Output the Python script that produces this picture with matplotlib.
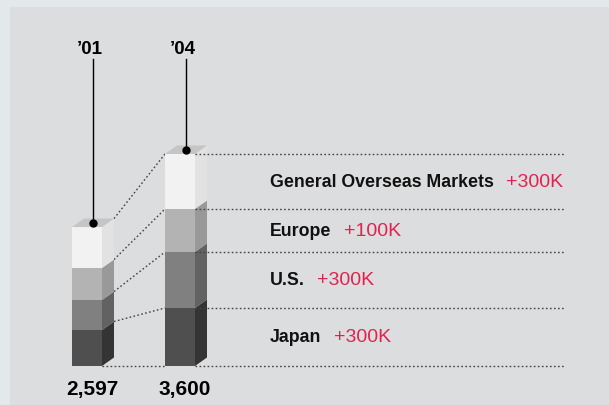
import matplotlib.pyplot as plt
from matplotlib.patches import Polygon, Rectangle

# data (segments bottom -> top, in K)
years = ["\u201901", "\u201904"]
totals = ["2,597", "3,600"]
markets = ["Japan", "U.S.", "Europe", "General Overseas Markets"]
seg_2001 = [611, 509, 543, 696]
seg_2004 = [985, 951, 730, 934]
growth = ["+300K", "+300K", "+100K", "+300K"]

front_colors = ["#4f4f4f", "#808080", "#b3b3b3", "#f2f2f2"]
side_colors = ["#343434", "#626262", "#999999", "#e2e2e2"]
top_color = "#c5c5c5"
dot_style = (0, (1.2, 1.7))

PX = 0.0589   # pixels per unit
BASE = 367    # pixel row of zero


def row(p):
    return (BASE - p) / PX


fig = plt.figure(figsize=(6.09, 4.06), dpi=100, facecolor="#e3e8ea")
ax = fig.add_axes([0, 0, 1, 1])
ax.set_xlim(0, 609)
ax.set_ylim(row(406), row(0))
ax.axis("off")

ax.add_patch(Rectangle((10, row(406)), 599, row(8) - row(406),
                       facecolor="#dcdddf", edgecolor="none", zorder=0))

bar_left = [72, 165]
bar_w = 30
dx = 12
dy = 8.5 / PX

all_edges = []
for i, (left, segs) in enumerate(zip(bar_left, [seg_2001, seg_2004])):
    bottom = 0
    edges = [0]
    r = left + bar_w
    for v, fc, sc in zip(segs, front_colors, side_colors):
        ax.add_patch(Rectangle((left, bottom), bar_w, v,
                               facecolor=fc, edgecolor="none", zorder=2))
        ax.add_patch(Polygon([(r, bottom), (r + dx, bottom + dy),
                              (r + dx, bottom + v + dy), (r, bottom + v)],
                             facecolor=sc, edgecolor="none", zorder=2))
        bottom += v
        edges.append(bottom)
    ax.add_patch(Polygon([(left, bottom), (r, bottom),
                          (r + dx, bottom + dy), (left + dx, bottom + dy)],
                         facecolor=top_color, edgecolor="none", zorder=2))
    all_edges.append(edges)

    # leader line, dot and year
    cx = left + bar_w / 2 + dx / 2
    cy = bottom + dy / 2
    ax.plot([cx, cx], [cy, row(60)], color="black", lw=1.0, zorder=3)
    ax.plot(cx, cy, "o", color="black", ms=5, zorder=4)
    ax.text(cx - 3, row(50), years[i], ha="center", va="center",
            fontsize=13.5, fontweight="bold",
            family=["Liberation Sans Narrow", "Liberation Sans"])

    # total under bar
    ax.text(left + 20, row(389.5), totals[i], ha="center", va="center",
            fontsize=15, fontweight="bold", family="Liberation Sans")

e1, e2 = all_edges
r1 = bar_left[0] + bar_w
r2 = bar_left[1] + bar_w

# horizontal dotted guides
for e in e2:
    ax.plot([r2, 565], [e, e], color="#444444", lw=1.0, ls=dot_style, zorder=5)
ax.plot([r1, bar_left[1]], [0, 0], color="#444444", lw=1.0, ls=dot_style, zorder=1)

# slanted connectors
for a, b in zip(e1[1:], e2[1:]):
    ax.plot([r1 + dx, bar_left[1]], [a + dy, b], color="#444444", lw=1.0,
            ls=dot_style, zorder=1)

# market labels
for k, name in enumerate(markets):
    ymid = (e2[k] + e2[k + 1]) / 2
    t = ax.text(270, ymid, name, ha="left", va="center", fontsize=12.8,
                fontweight="bold", family="Liberation Sans", color="#111111")
    ax.annotate(growth[k], xy=(1, 0.5), xycoords=t, xytext=(9, 0),
                textcoords="offset points", ha="left", va="center",
                fontsize=14, family="Liberation Sans", color="#e0234e")

fig.savefig("out.png", dpi=100, facecolor=fig.get_facecolor())
